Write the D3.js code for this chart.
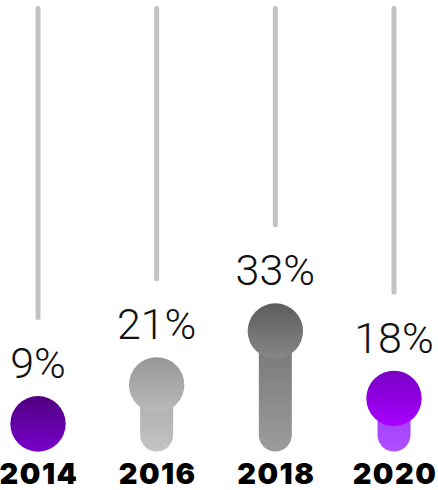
<!DOCTYPE html>
<html>
<head>
<meta charset="utf-8">
<script src="https://cdn.jsdelivr.net/npm/d3@7"></script>
<style>
  html, body { margin: 0; padding: 0; background: #fff; }
  svg { display: block; }
</style>
</head>
<body>
<svg id="chart" width="438" height="490"></svg>
<script>
// Share by year (percent)
const years = ["2014", "2016", "2018", "2020"];
const shares = [9, 21, 33, 18];

// Gradient stops per year: circle top/bottom, stem top/bottom
const palette = [
  { head: ["#4f0080", "#7a00cc"], stem: ["#6a00b0", "#7a00cc"] },
  { head: ["#979797", "#bababa"], stem: ["#a8a8a8", "#c4c4c4"] },
  { head: ["#5c5c5c", "#878787"], stem: ["#747474", "#9c9c9c"] },
  { head: ["#7800c4", "#a800ff"], stem: ["#9c38ff", "#b050ff"] }
];

const W = 438, H = 490;
const base = 451.5;      // bottom of the stems
const r = 27.7;          // head radius
const stemW = 33;

const svg = d3.select("#chart");
const defs = svg.append("defs");

const x = d3.scalePoint().domain(years).range([38, 394]);
const y = d3.scaleLinear().domain([0, 100]).range([base, 2.5]);

const data = years.map((yr, i) => {
  const top = Math.min(y(shares[i]), base - 2 * r);
  const label = top - 18;
  return { year: yr, value: shares[i], i, cx: x(yr), top, cy: top + r, label, lineEnd: label - 58 };
});

// vertical gradients
data.forEach(d => {
  ["head", "stem"].forEach(k => {
    const g = defs.append("linearGradient")
      .attr("id", `${k}${d.i}`)
      .attr("x1", 0).attr("y1", 0).attr("x2", 0).attr("y2", 1);
    g.append("stop").attr("offset", "0%").attr("stop-color", palette[d.i][k][0]);
    g.append("stop").attr("offset", "100%").attr("stop-color", palette[d.i][k][1]);
  });
});

const col = svg.selectAll("g.col").data(data).join("g").attr("class", "col");

// track from the 100% mark down to above the label
col.append("line")
  .attr("x1", d => d.cx).attr("x2", d => d.cx)
  .attr("y1", y(100) + 6)
  .attr("y2", d => d.lineEnd - 2.5)
  .attr("stroke", "#c2c2c2")
  .attr("stroke-width", 5)
  .attr("stroke-linecap", "round");

// stem
col.append("rect")
  .attr("x", d => d.cx - stemW / 2)
  .attr("width", stemW)
  .attr("y", d => d.cy)
  .attr("height", d => base - d.cy)
  .attr("rx", stemW / 2)
  .attr("fill", d => `url(#stem${d.i})`);

// head
col.append("circle")
  .attr("cx", d => d.cx)
  .attr("cy", d => d.cy)
  .attr("r", r)
  .attr("fill", d => `url(#head${d.i})`);

// value labels
col.append("text")
  .attr("x", d => d.cx)
  .attr("y", d => d.label)
  .attr("text-anchor", "middle")
  .attr("font-family", "Roboto, 'Noto Sans', sans-serif")
  .attr("font-weight", 300)
  .attr("font-size", 43)
  .attr("fill", "#111")
  .text(d => d.value + "%");

// year labels
col.append("text")
  .attr("x", d => d.cx + 1)
  .attr("y", 484)
  .attr("text-anchor", "middle")
  .attr("font-family", "Inter, Roboto, sans-serif")
  .attr("font-weight", 900)
  .attr("font-size", 29)
  .attr("letter-spacing", 1.5)
  .attr("fill", "#000")
  .text(d => d.year);
</script>
</body>
</html>
